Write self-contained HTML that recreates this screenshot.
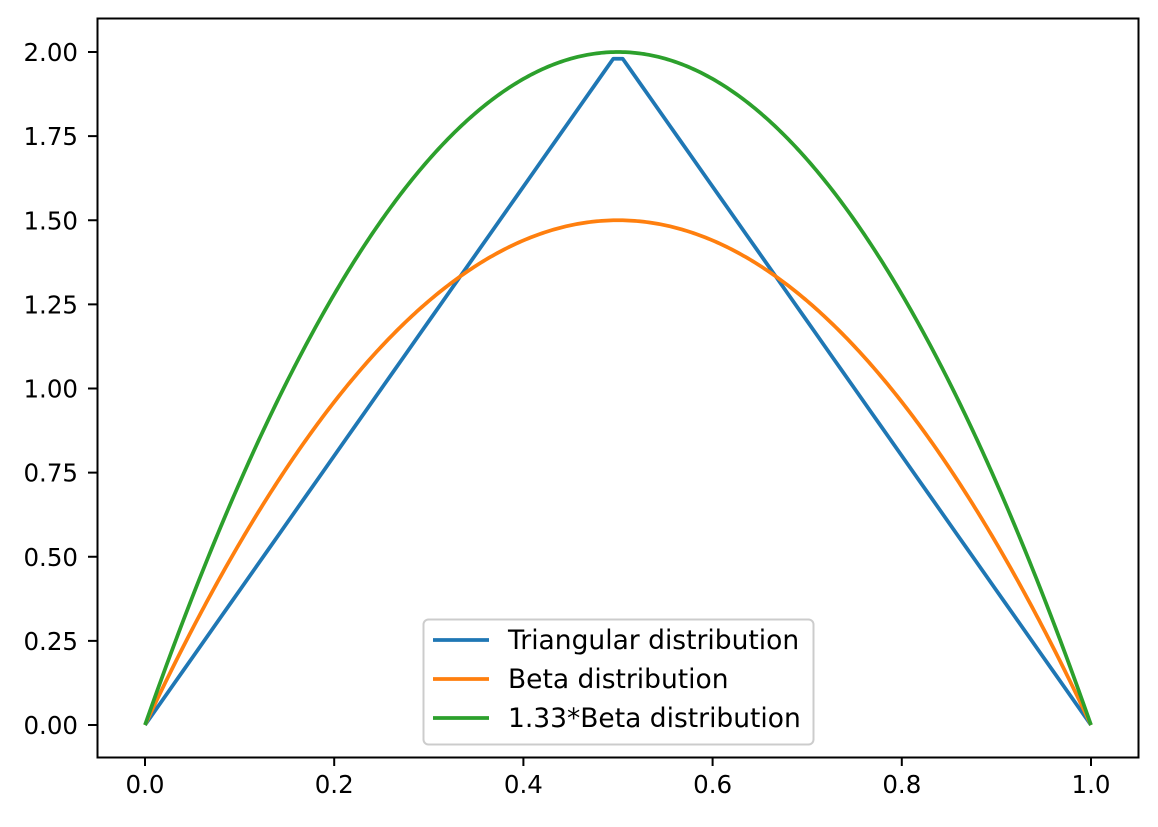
<!DOCTYPE html>
<html><head><meta charset="utf-8"><style>
html,body{margin:0;padding:0;background:#fff;}
svg text{font-family:"DejaVu Sans","Liberation Sans",sans-serif;font-size:24.5px;fill:#000;}
svg text.lg{font-size:26.5px;}
</style></head><body>
<svg id="s" width="1158" height="822" xmlns="http://www.w3.org/2000/svg">
<rect x="0" y="0" width="1158" height="822" fill="#fff"/>
<g id="plot"></g>
<rect x="97.5" y="18.5" width="1041" height="739" fill="none" stroke="#000" stroke-width="2"/>
<g id="ticks"></g>
<rect x="423.5" y="619.5" width="390" height="125" rx="5" fill="#fff" fill-opacity="0.8" stroke="#ccc" stroke-width="2"/>
<line x1="433" y1="640" x2="489" y2="640" stroke="#1f77b4" stroke-width="3.75"/>
<line x1="433" y1="679" x2="489" y2="679" stroke="#ff7f0e" stroke-width="3.75"/>
<line x1="433" y1="718" x2="489" y2="718" stroke="#2ca02c" stroke-width="3.75"/>
<text class="lg" x="508" y="649">Triangular distribution</text>
<text class="lg" x="508" y="688">Beta distribution</text>
<text class="lg" x="508" y="727">1.33*Beta distribution</text>
</svg>
<script>
var X=function(v){return 145+946*v;},Y=function(v){return 725-336.5*v;};
var ns="http://www.w3.org/2000/svg";
function pl(pts,c){var p=document.createElementNS(ns,"polyline");p.setAttribute("points",pts.map(function(a){return X(a[0]).toFixed(2)+","+Y(a[1]).toFixed(2)}).join(" "));p.setAttribute("fill","none");p.setAttribute("stroke",c);p.setAttribute("stroke-width","3.75");p.setAttribute("stroke-linejoin","round");document.getElementById("plot").appendChild(p);}
var t=[],b=[],g=[];
for(var i=0;i<100;i++){var x=i/99;t.push([x,x<=0.5?4*x:4*(1-x)]);}
for(var i=0;i<=400;i++){var x=i/400;b.push([x,6*x*(1-x)]);g.push([x,8*x*(1-x)]);}
pl(t,"#1f77b4");pl(b,"#ff7f0e");pl(g,"#2ca02c");
var tk=document.getElementById("ticks"),h="";
for(var i=0;i<=5;i++){var v=i*0.2,x=X(v);h+='<line x1="'+x+'" y1="757" x2="'+x+'" y2="766" stroke="#000" stroke-width="2"/><text x="'+x+'" y="793" text-anchor="middle">'+v.toFixed(1)+'</text>';}
for(var i=0;i<=8;i++){var v=i*0.25,y=Y(v);h+='<line x1="88" y1="'+y+'" x2="97" y2="'+y+'" stroke="#000" stroke-width="2"/><text x="78" y="'+(y+9)+'" text-anchor="end">'+v.toFixed(2)+'</text>';}
tk.innerHTML=h;
</script>
</body></html>
